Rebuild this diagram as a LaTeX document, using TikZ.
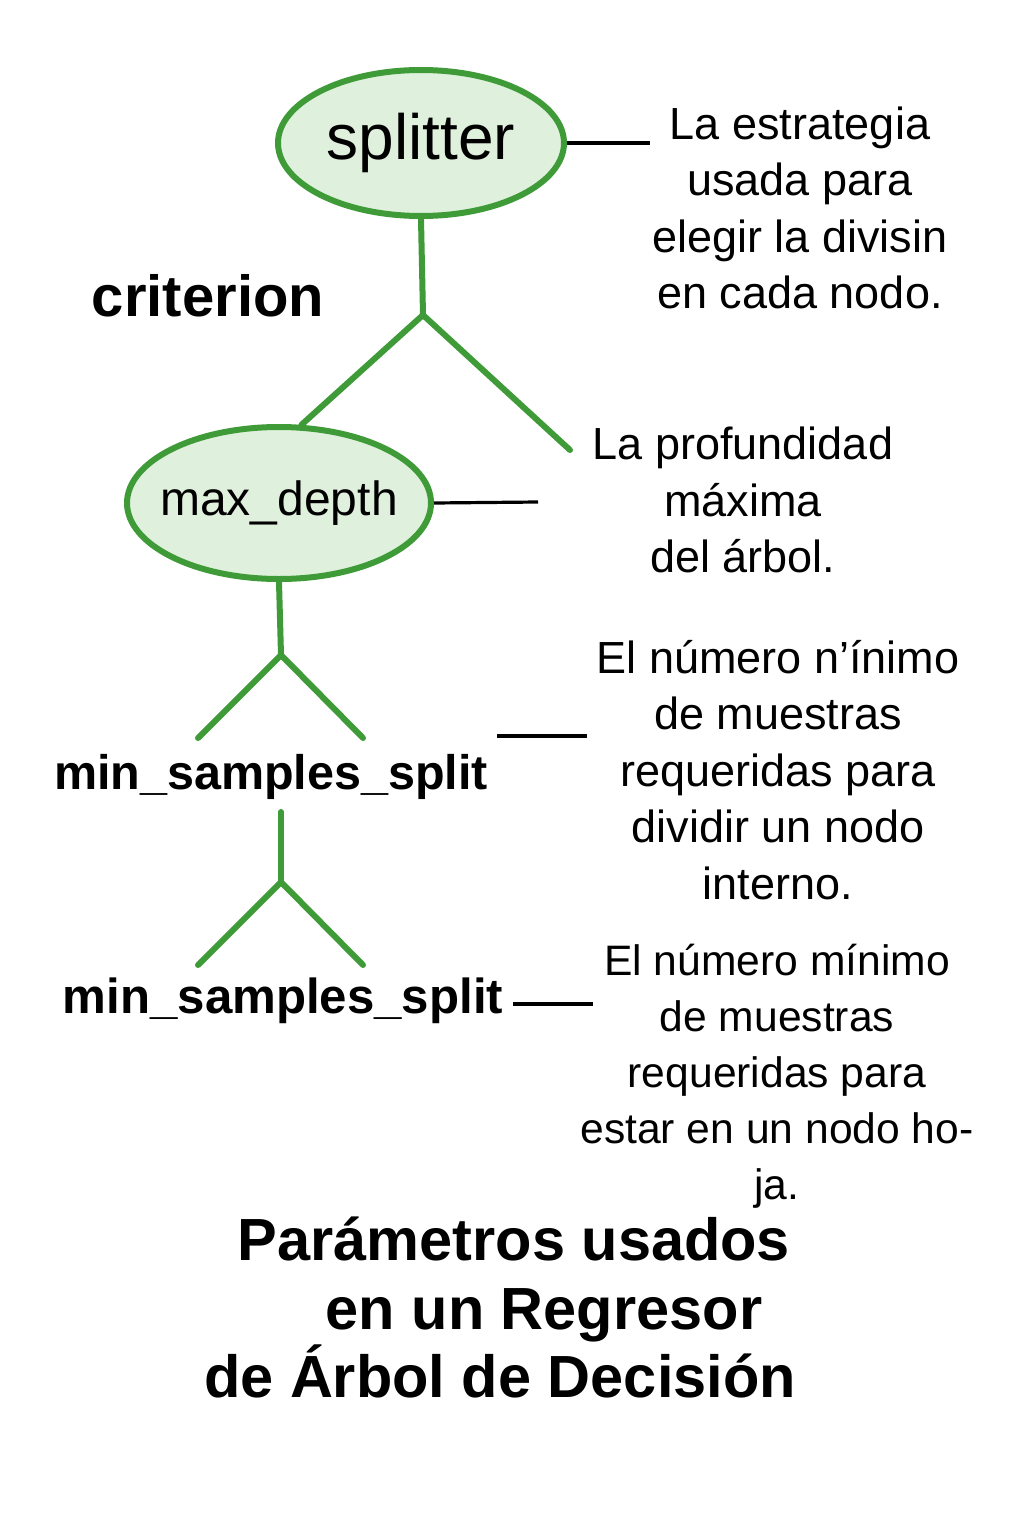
\documentclass[tikz,border=0pt]{standalone}
\usepackage{fontspec}
\setmainfont{Liberation Sans}
\definecolor{tgreen}{HTML}{3E9B37}
\definecolor{tfill}{HTML}{DFF0DC}
\tikzset{
  ell/.style={ellipse, draw=tgreen, fill=tfill, line width=6pt, inner sep=0pt},
  branch/.style={draw=tgreen, line width=6pt, line cap=round},
  lead/.style={draw=black, line width=3.2pt},
  desc/.style={align=center, inner sep=0pt, font=\fontsize{45}{56.5}\selectfont},
  descs/.style={align=center, inner sep=0pt, font=\fontsize{42.6}{56}\selectfont},
  bold/.style={inner sep=0pt, anchor=base, font=\bfseries\fontsize{48.5}{56}\selectfont},
  ttl/.style={inner sep=0pt, anchor=base, font=\bfseries\fontsize{59.5}{70}\selectfont},
}
\usetikzlibrary{shapes.geometric}
\begin{document}
\begin{tikzpicture}[x=1pt,y=-1pt]
\useasboundingbox[fill=white] (0,0) rectangle (1024,1536);
% splitter
\node[ell, minimum width=286pt, minimum height=146pt, label={[font=\fontsize{64}{70}\selectfont]center:splitter}] (sp) at (421,143) {};
\coordinate (spL) at (650,143);
\draw[lead] (sp.east) -- (spL);
\coordinate (j1) at (423,315);
\coordinate (b1r) at (570,450);
\draw[branch] (sp.south) -- (j1);
\draw[branch] (j1) -- (b1r);
\node[inner sep=0pt, font=\bfseries\fontsize{58}{64}\selectfont] (crit) at (208,296) {criterion};
\node[desc] (d1) at (800,208) {La estrategia\\usada para\\elegir la divisin\\en cada nodo.};
% max_depth
\node[ell, minimum width=304pt, minimum height=152pt, label={[font=\fontsize{48}{56}\selectfont]center:max\_depth}] (md) at (279,503) {};
\draw[branch] (j1) -- (md.74);
\coordinate (mdL) at (538,502);
\draw[lead] (md.east) -- (mdL);
\node[desc] (d2) at (743,500) {La profundidad\\máxima\\del árbol.};
% first min_samples_split
\coordinate (j2) at (281,655);
\coordinate (b2l) at (198,738);
\coordinate (b2r) at (363,738);
\draw[branch] (md.south) -- (j2);
\draw[branch] (j2) -- (b2l);
\draw[branch] (j2) -- (b2r);
\node[bold] (ms1) at (271,789) {min\_samples\_split};
\coordinate (ms1a) at (497,736);
\coordinate (ms1b) at (587,736);
\draw[lead] (ms1a) -- (ms1b);
\node[desc] (d3) at (778,770) {El número n’ínimo\\de muestras\\requeridas para\\dividir un nodo\\interno.};
% second min_samples_split
\coordinate (s3) at (281,812);
\coordinate (j3) at (281,882);
\coordinate (b3l) at (198,965);
\coordinate (b3r) at (363,965);
\draw[branch] (s3) -- (j3);
\draw[branch] (j3) -- (b3l);
\draw[branch] (j3) -- (b3r);
\node[bold, font=\bfseries\fontsize{49.2}{56}\selectfont] (ms2) at (283,1013) {min\_samples\_split};
\coordinate (ms2a) at (513,1004);
\coordinate (ms2b) at (593,1004);
\draw[lead] (ms2a) -- (ms2b);
\node[descs] (d4) at (777,1076) {El número mínimo\\de muestras\\requeridas para\\estar en un nodo ho-\\ja.};
% title
\node[ttl] (t1) at (514,1260) {Parámetros usados};
\node[ttl] (t2) at (544,1329) {en un Regresor};
\node[ttl] (t3) at (500,1397) {de Árbol de Decisión};
\end{tikzpicture}
\end{document}
